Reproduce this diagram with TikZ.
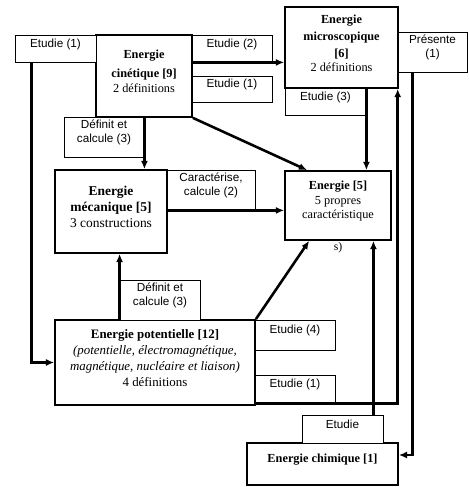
\documentclass[tikz,border=0pt]{standalone}
\usepackage{fontspec}
\setmainfont{Liberation Serif}
\newfontfamily\labfont{Liberation Sans}
\usetikzlibrary{arrows.meta,fit}

\begin{document}
\begin{tikzpicture}[x=0.03cm,y=-0.03cm,
    concept/.style={draw,line width=1.5pt,fill=white,inner sep=0pt,align=center,
      font=\fontsize{10.5}{12.5}\selectfont},
    verb/.style={draw,line width=0.7pt,fill=white,inner sep=0pt,align=center,
      font=\labfont\fontsize{10}{12}\selectfont},
    link/.style={line width=2.2pt,-{Latex[length=7pt,width=6pt]}}]
  \useasboundingbox (0,0) rectangle (468,487);
  % concepts
  \node[concept,fit={(96,35) (192,117)}] (cin) {\textbf{Energie}\\[3pt]\textbf{cinétique [9]}\\[1pt]2 définitions};
  \node[concept,fit={(285,7) (398,88)}] (micro) {\textbf{Energie}\\[2pt]\textbf{microscopique}\\[2pt]\textbf{[6]}\\2 définitions};
  \node[concept,fit={(55,170) (167,253)},font=\fontsize{11.5}{14}\selectfont] (mec) {\textbf{Energie}\\\textbf{mécanique [5]}\\3 constructions};
  \node[concept,fit={(285,171) (391,240)},label={[inner sep=0pt,yshift=-1pt]below:s)}] (en5) {\textbf{Energie [5]}\\5 propres\\caractéristique};
  \node[concept,fit={(55,320) (255,405)},font=\fontsize{11}{13.5}\selectfont] (pot) {\textbf{Energie potentielle [12]}\\\textit{(potentielle, électromagnétique,}\\\textit{magnétique, nucléaire et liaison)}\\4 définitions};
  \node[concept,fit={(247,443) (398,485)}] (chim) {\textbf{Energie chimique [1]}};
  % verbs
  \node[verb,fit={(15,35) (96,62)}] (et1a) {Etudie (1)};
  \node[verb,fit={(192,35) (272,62)}] (et2) {Etudie (2)};
  \node[verb,fit={(192,76) (272,102)}] (et1b) {Etudie (1)};
  \node[verb,fit={(64,117) (144,157)}] (def1) {Définit et\\calcule (3)};
  \node[verb,fit={(398,32) (467,72)}] (pres) {Présente\\(1)};
  \node[verb,fit={(285,88) (366,115)}] (et3) {Etudie (3)};
  \node[verb,fit={(167,170) (255,210)}] (car) {Caractérise,\\calcule (2)};
  \node[verb,fit={(120,280) (200,320)}] (def2) {Définit et\\calcule (3)};
  \node[verb,fit={(255,320) (335,350)}] (et4) {Etudie (4)};
  \node[verb,fit={(255,375) (335,403)}] (et1c) {Etudie (1)};
  \node[verb,fit={(302,415) (383,443)}] (etc) {Etudie};
  % links
  \coordinate (cindown) at ([xshift=0.51cm]et1a.south west);
  \coordinate (presdown) at ([xshift=0.45cm]pres.south west);
  \coordinate (chimup) at ([xshift=-0.3cm]etc.north east);
  \draw[link] (cindown) |- (pot.west);
  \draw[link] (et2.south west) -- (et2.south west -| micro.west);
  \draw[link] (cin.south east) -- ([xshift=0.69cm]en5.north west);
  \draw[link] (cin.south -| def1.east) -- (mec.north -| def1.east);
  \draw[link] (car.south west) -- (car.south west -| en5.west);
  \draw[link] (def2.south west) -- (def2.south west |- mec.south);
  \draw[link] (pot.north east) -- ([xshift=0.75cm]en5.south west);
  \draw[link] (et1c.south west) -| ([xshift=-1pt]micro.south east);
  \draw[link] (et3.north east) -- (et3.north east |- en5.north);
  \draw[link] (presdown) |- ([yshift=0.27cm]chim.east);
  \draw[link] (chimup) -- (chimup |- en5.south);
\end{tikzpicture}
\end{document}
